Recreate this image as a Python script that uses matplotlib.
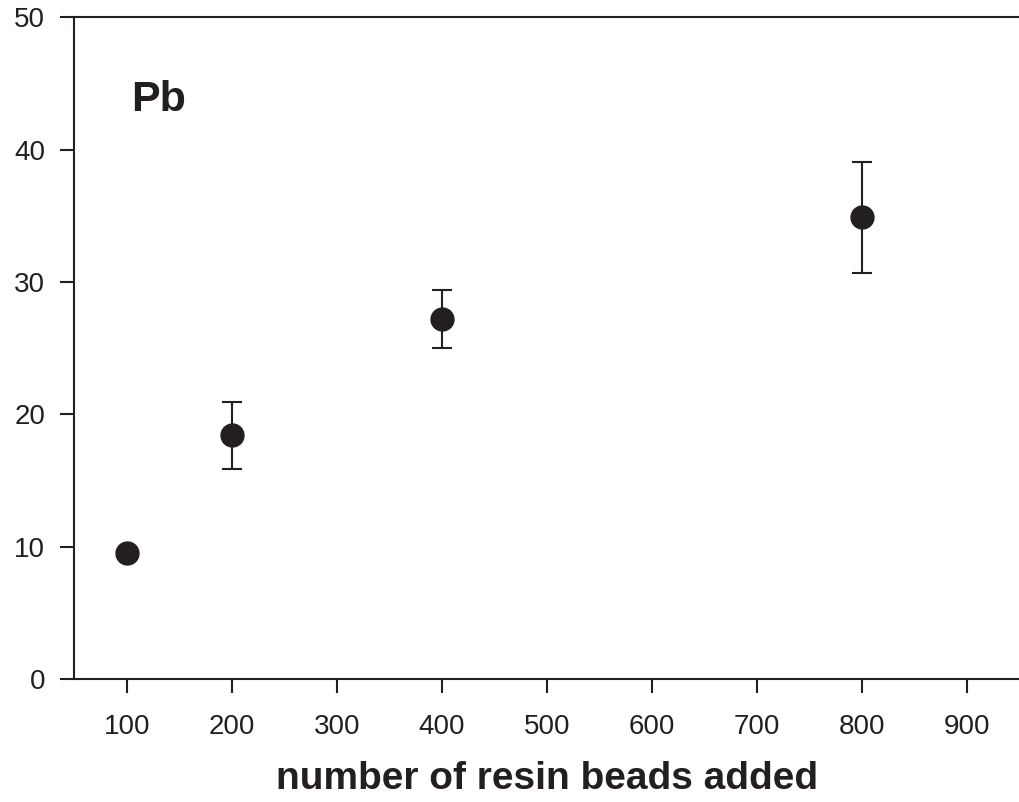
import matplotlib
matplotlib.use("Agg")
import matplotlib.pyplot as plt

# Pb: 加えた樹脂ビーズ数ごとの値と誤差
beads = [100, 200, 400, 800]
pb_values = [9.5, 18.4, 27.2, 34.9]
pb_errors = [0.3, 2.5, 2.2, 4.2]

x_ticks = [100, 200, 300, 400, 500, 600, 700, 800, 900]
y_ticks = [0, 10, 20, 30, 40, 50]

INK = "#231f20"

plt.rcParams["font.family"] = ["Liberation Sans", "DejaVu Sans"]

fig = plt.figure(figsize=(10.19, 8.02), dpi=100)
ax = fig.add_axes([0.0729, 0.1534, 0.9271, 0.825])

ax.errorbar(beads, pb_values, yerr=pb_errors, fmt="o", color=INK,
            ms=16.5, lw=1.5, capsize=7.5, capthick=1.5, elinewidth=1.5)

ax.set_xlim(50, 950)
ax.set_ylim(0, 50)
ax.set_xticks(x_ticks)
ax.set_yticks(y_ticks)

ax.spines["right"].set_visible(False)
for s in ("left", "top", "bottom"):
    ax.spines[s].set_linewidth(1.5)
    ax.spines[s].set_color(INK)

ax.tick_params(axis="both", direction="out", length=10, width=1.5,
               colors=INK, labelsize=20)
ax.tick_params(axis="x", pad=15)
ax.tick_params(axis="y", pad=11)

ax.set_xlabel("number of resin beads added", fontsize=28, fontweight="bold",
              color=INK, labelpad=15)
ax.text(0.06, 0.875, "Pb", transform=ax.transAxes, fontsize=31,
        fontweight="bold", color=INK, va="center", ha="left")

fig.savefig("out.png", dpi=100)
plt.close(fig)
